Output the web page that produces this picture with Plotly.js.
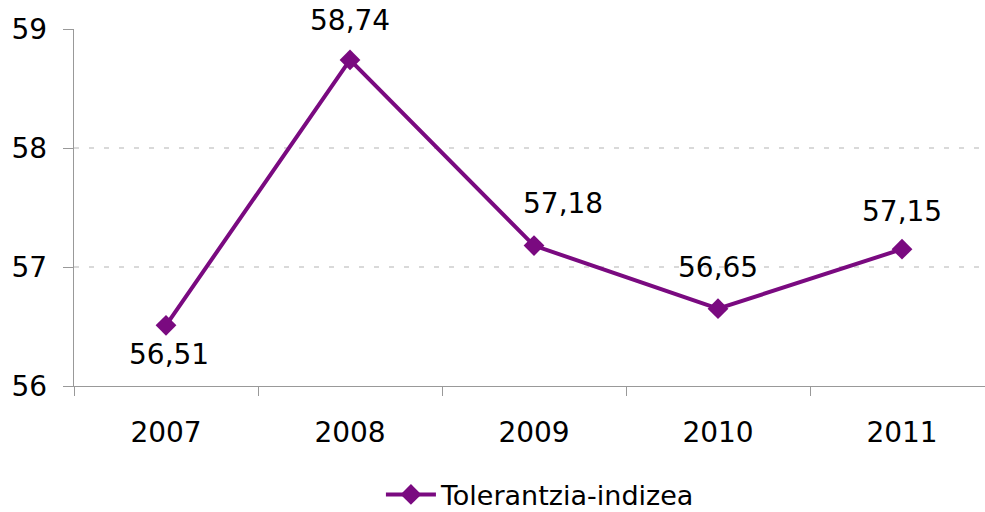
<!DOCTYPE html>
<html><head><meta charset="utf-8">
<script src="https://cdn.plot.ly/plotly-3.0.1.min.js"></script>
<style>html,body{margin:0;padding:0;background:#fff}#c{width:985px;height:512px}</style>
</head><body><div id="c"></div>
<script>
const years = ['2007','2008','2009','2010','2011'];
const values = [56.51, 58.74, 57.18, 56.65, 57.15];
const seriesName = 'Tolerantzia-indizea';
const yTicks = [56, 57, 58, 59];
// label offsets in pixels (styling only)
const labelDx = [3, 0, 29, 0, 0];
const labelDy = [-29, 39, 42, 41, 38];

const color = '#7a0a80';
const font = {family: 'DejaVu Sans, sans-serif', size: 28, color: '#000'};

const trace = {
  x: years, y: values, type: 'scatter', mode: 'lines+markers',
  name: seriesName,
  line: {color: color, width: 4},
  marker: {symbol: 'diamond', size: 16, color: color},
  cliponaxis: false
};

const annotations = years.map((yr, i) => ({
  x: i, y: values[i], xref: 'x', yref: 'y',
  text: values[i].toFixed(2).replace('.', ','),
  showarrow: false, xanchor: 'center', yanchor: 'middle',
  xshift: labelDx[i], yshift: labelDy[i],
  font: font
}));

const layout = {
  width: 985, height: 512,
  margin: {l: 74, r: 0, t: 29, b: 126, autoexpand: false},
  paper_bgcolor: '#fff', plot_bgcolor: '#fff',
  font: font,
  showlegend: true,
  legend: {orientation: 'h', x: 0.512, xanchor: 'center', y: -0.305, yanchor: 'middle',
           font: {family: font.family, size: 27, color: '#000'}, itemwidth: 50},
  annotations: annotations,
  xaxis: {
    type: 'category', range: [-0.5, 4.451],
    showline: true, linecolor: '#999', linewidth: 1.3,
    ticks: 'outside', tickson: 'boundaries', ticklen: 9, tickcolor: '#999',
    ticklabelstandoff: 21,
    showgrid: false, zeroline: false, tickfont: font
  },
  yaxis: {
    range: [56, 59], tickvals: yTicks, ticktext: yTicks.map(String),
    showline: true, linecolor: '#999', linewidth: 1.3,
    ticks: 'outside', ticklen: 10, tickcolor: '#999',
    ticklabelstandoff: 10,
    showgrid: true, gridcolor: '#d9d9d9', griddash: '5px,10px', gridwidth: 1.2,
    zeroline: false, tickfont: font
  }
};
Plotly.newPlot('c', [trace], layout, {displayModeBar: false, staticPlot: true});
</script></body></html>
